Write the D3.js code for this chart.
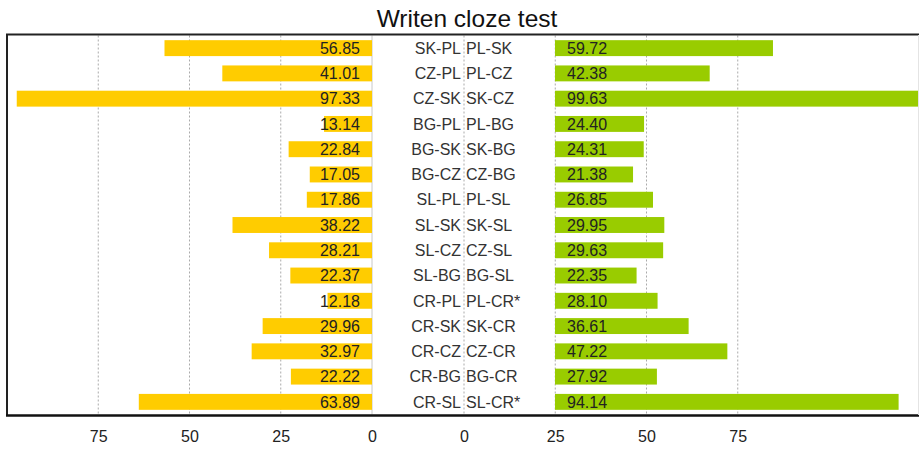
<!DOCTYPE html>
<html><head><meta charset="utf-8">
<script src="https://cdn.jsdelivr.net/npm/d3@7"></script>
<style>body{margin:0;background:#fff;} svg{display:block;font-family:"Liberation Sans",Arial,sans-serif;}</style>
</head><body>
<svg id="chart" width="919" height="449"></svg>
<script>
const leftPairs = ["SK-PL","CZ-PL","CZ-SK","BG-PL","BG-SK","BG-CZ","SL-PL","SL-SK","SL-CZ","SL-BG","CR-PL","CR-SK","CR-CZ","CR-BG","CR-SL"];
const rightPairs = ["PL-SK","PL-CZ","SK-CZ","PL-BG","SK-BG","CZ-BG","PL-SL","SK-SL","CZ-SL","BG-SL","PL-CR*","SK-CR","CZ-CR","BG-CR","SL-CR*"];
const leftValues = [56.85,41.01,97.33,13.14,22.84,17.05,17.86,38.22,28.21,22.37,12.18,29.96,32.97,22.22,63.89];
const rightValues = [59.72,42.38,99.63,24.40,24.31,21.38,26.85,29.95,29.63,22.35,28.10,36.61,47.22,27.92,94.14];
const tickValues = [0,25,50,75];
const title = "Writen cloze test";

const svg = d3.select("#chart");
const plotTop = 35.5, plotBottom = 414.5;

const y = d3.scaleBand().domain(d3.range(leftPairs.length)).range([plotTop, plotBottom]).paddingInner(0.37).paddingOuter(0.185);
const xL = d3.scaleLinear().domain([0,100]).range([372, 7]);
const xRaxis = d3.scaleLinear().domain([0,100]).range([464, 829]);
const xRbar = d3.scaleLinear().domain([0,100]).range([555, 920]);

// title
svg.append("text").attr("x", 467).attr("y", 27).attr("text-anchor","middle")
  .attr("font-size", 24.5).attr("fill","#111").text(title);

// gridlines
const grid = svg.append("g");
[25,50,75].forEach(v => {
  grid.append("line").attr("x1", xL(v)).attr("x2", xL(v)).attr("y1", plotTop).attr("y2", plotBottom)
    .attr("stroke","#aaa").attr("stroke-dasharray","2,2");
});
[0,25,50,75].forEach(v => {
  grid.append("line").attr("x1", xRaxis(v)).attr("x2", xRaxis(v)).attr("y1", plotTop).attr("y2", plotBottom)
    .attr("stroke","#aaa").attr("stroke-dasharray","2,2");
});
grid.append("line").attr("x1", xL(0)).attr("x2", xL(0)).attr("y1", plotTop).attr("y2", plotBottom)
  .attr("stroke","#c8c8c8");

// left bars
svg.append("g").selectAll("rect").data(leftValues).join("rect")
  .attr("x", d => xL(d)).attr("width", d => xL(0) - xL(d))
  .attr("y", (d,i) => y(i)).attr("height", y.bandwidth())
  .attr("fill", "#FFCC00");
// right bars
svg.append("g").selectAll("rect").data(rightValues).join("rect")
  .attr("x", xRbar(0)).attr("width", d => xRbar(d) - xRbar(0))
  .attr("y", (d,i) => y(i)).attr("height", y.bandwidth())
  .attr("fill", "#99CC00");

const mid = i => y(i) + y.bandwidth()/2;
// value labels
svg.append("g").selectAll("text").data(leftValues).join("text")
  .attr("x", 360).attr("y", (d,i) => mid(i)).attr("dy","0.36em")
  .attr("text-anchor","end").attr("font-size",16).attr("fill","#222")
  .text(d => d.toFixed(2));
svg.append("g").selectAll("text").data(rightValues).join("text")
  .attr("x", 567).attr("y", (d,i) => mid(i)).attr("dy","0.36em")
  .attr("text-anchor","start").attr("font-size",16).attr("fill","#222")
  .text(d => d.toFixed(2));

// pair names
svg.append("g").selectAll("text").data(leftPairs).join("text")
  .attr("x", 461).attr("y", (d,i) => mid(i)).attr("dy","0.36em")
  .attr("text-anchor","end").attr("font-size",16).attr("fill","#333")
  .text(d => d);
svg.append("g").selectAll("text").data(rightPairs).join("text")
  .attr("x", 466).attr("y", (d,i) => mid(i)).attr("dy","0.36em")
  .attr("text-anchor","start").attr("font-size",16).attr("fill","#333")
  .text(d => d);

// frame
svg.append("line").attr("x1",6).attr("x2",919).attr("y1",34.5).attr("y2",34.5).attr("stroke","#222").attr("stroke-width",2);
svg.append("line").attr("x1",7).attr("x2",7).attr("y1",34).attr("y2",416).attr("stroke","#222").attr("stroke-width",2);
svg.append("line").attr("x1",6).attr("x2",919).attr("y1",415.5).attr("y2",415.5).attr("stroke","#111").attr("stroke-width",2.5);
svg.append("line").attr("x1",918.5).attr("x2",918.5).attr("y1",35).attr("y2",415).attr("stroke","#e4e4e4").attr("stroke-width",1);

// axes
const axL = d3.axisBottom(xL).tickValues(tickValues).tickSize(0).tickPadding(0);
const axR = d3.axisBottom(xRaxis).tickValues(tickValues).tickSize(0).tickPadding(0);
const gL = svg.append("g").attr("transform","translate(0,431)").call(axL);
const gR = svg.append("g").attr("transform","translate(0,431)").call(axR);
[gL,gR].forEach(g => {
  g.select(".domain").remove();
  g.selectAll("text").attr("font-size",16).attr("fill","#222").attr("font-family","Liberation Sans, Arial, sans-serif").attr("dy","0.71em");
});
</script>
</body></html>
